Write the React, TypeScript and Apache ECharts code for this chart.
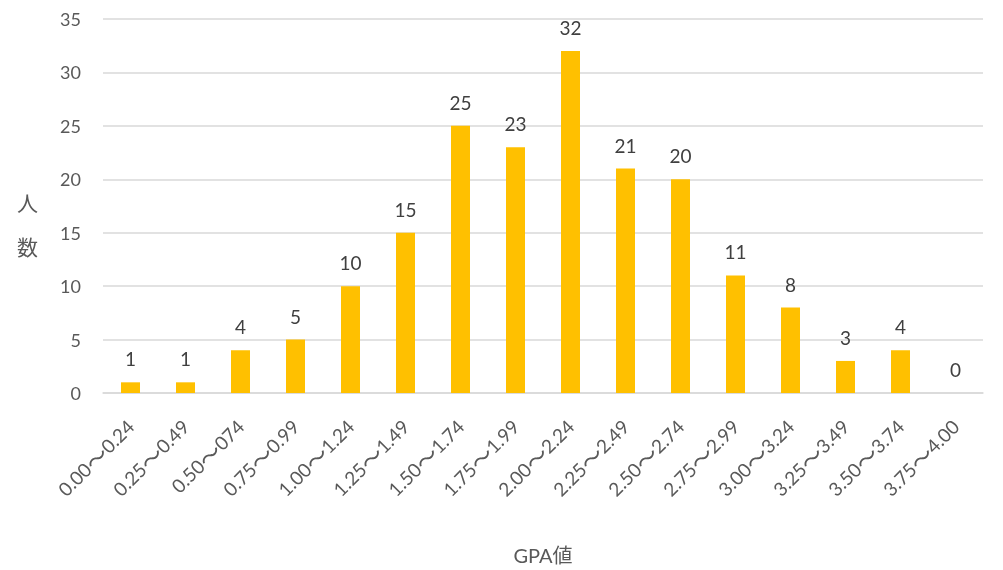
import React, { useEffect, useRef } from "react";
import * as echarts from "echarts";

const categories = [
  "0.00～0.24", "0.25～0.49", "0.50～074", "0.75～0.99",
  "1.00～1.24", "1.25～1.49", "1.50～1.74", "1.75～1.99",
  "2.00～2.24", "2.25～2.49", "2.50～2.74", "2.75～2.99",
  "3.00～3.24", "3.25～3.49", "3.50～3.74", "3.75～4.00",
];
const counts = [1, 1, 4, 5, 10, 15, 25, 23, 32, 21, 20, 11, 8, 3, 4, 0];
const yName = "人\n数";
const xName = "GPA値";

const FONT = "Lato, 'Noto Sans CJK JP', sans-serif";

export default function App() {
  const ref = useRef<HTMLDivElement>(null);
  useEffect(() => {
    if (!ref.current) return;
    const chart = echarts.init(ref.current, undefined, { renderer: "svg" });
    chart.setOption({
      animation: false,
      textStyle: { fontFamily: FONT },
      grid: { left: 103, right: 20, top: 19, bottom: 176 },
      graphic: [
        {
          type: "text",
          left: 17,
          top: 180,
          style: {
            text: yName,
            fontSize: 21,
            lineHeight: 44,
            fill: "#595959",
            fontFamily: FONT,
          },
        },
      ],
      xAxis: {
        type: "category",
        data: categories,
        name: xName,
        nameLocation: "middle",
        nameGap: 152,
        nameTextStyle: { fontSize: 20, color: "#595959", fontFamily: FONT },
        axisLine: { lineStyle: { color: "#d9d9d9", width: 1.5 } },
        axisTick: { show: false },
        axisLabel: {
          rotate: 45,
          interval: 0,
          margin: 30,
          color: "#595959",
          formatter: (v: string) => {
            const [a, b] = v.split("～");
            return `{n|${a}}{t|～}{n|${b}}`;
          },
          rich: {
            n: { fontSize: 19, fontFamily: FONT, color: "#595959" },
            t: { fontSize: 23, fontFamily: "'Noto Sans CJK JP'", color: "#595959" },
          },
        },
      },
      yAxis: {
        type: "value",
        min: 0,
        max: 35,
        interval: 5,
        axisLine: { show: false },
        axisTick: { show: false },
        axisLabel: { fontSize: 18, color: "#595959", margin: 22, fontFamily: FONT },
        splitLine: { lineStyle: { color: "#d9d9d9", width: 1.5 } },
      },
      series: [
        {
          type: "bar",
          data: counts,
          barWidth: 19,
          itemStyle: { color: "#FFC000" },
          label: {
            show: true,
            position: "top",
            distance: 14,
            fontSize: 19,
            color: "#404040",
            fontFamily: FONT,
          },
        },
      ],
    });
    return () => chart.dispose();
  }, []);
  return (
    <div style={{ position: "fixed", left: 0, top: 0, width: 1003, height: 570 }}>
      <div ref={ref} style={{ width: 1003, height: 570 }} />
    </div>
  );
}
